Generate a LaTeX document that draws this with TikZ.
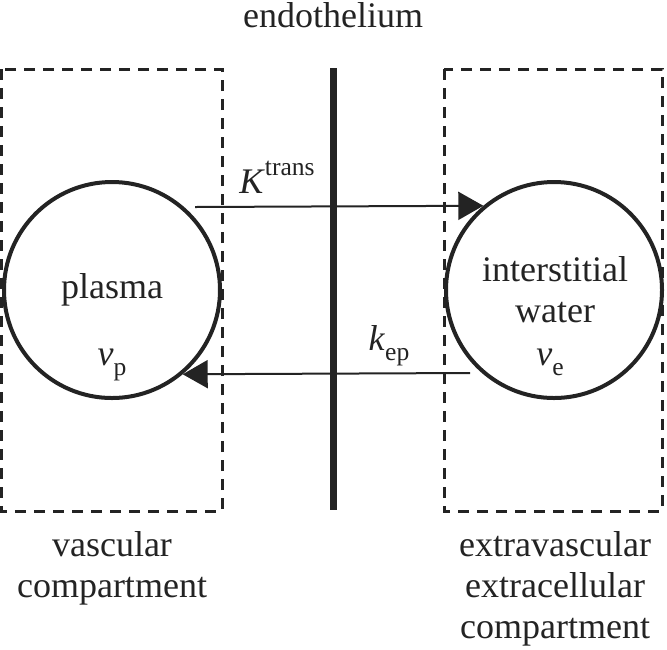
\documentclass[tikz,border=0pt]{standalone}
\usepackage{fontspec}
\setmainfont{Liberation Serif}
\usetikzlibrary{arrows.meta}
\definecolor{ink}{HTML}{232323}
\newcommand\supx[1]{\raisebox{0.5em}{\fontsize{12.8}{14}\selectfont #1}}
\newcommand\subx[1]{\raisebox{-0.3em}{\fontsize{12.8}{14}\selectfont #1}}

\begin{document}
\begin{tikzpicture}[x=0.5pt, y=-0.5pt, ink,
  every node/.style={font=\fontsize{18}{20.5}\selectfont, text=ink, inner sep=0pt},
  pool/.style={circle, draw, line width=2pt, minimum size=108pt},
  comp/.style={line width=1.5pt, dash pattern=on 5.5pt off 4pt},
  flux/.style={line width=1pt, -{Triangle[length=12.5pt, width=14pt]}}]
\useasboundingbox (0,0) rectangle (667,649);

% compartments
\draw [comp] (1,69) rectangle (222,511);
\draw [comp] (444,69) rectangle (662,511);
\node [anchor=base, align=center] (vasc) at (112,597) {vascular\\compartment};
\node [anchor=base, align=center] (eec) at (555,638) {extravascular\\extracellular\\compartment};

% endothelium
\path (333,68) coordinate (bartop) (333,510) coordinate (barbot);
\draw [line width=3.5pt] (bartop) -- (barbot);
\node [anchor=base] (endo) at (333,27) {endothelium};

% pools
\node [pool] (plasma) at (112,290) {};
\node [pool] (water) at (554,290) {};
\node [anchor=base] (plasmatx) at (112,298) {plasma};
\node [anchor=base] (vp) at (112,365) {\textit{v}\subx{p}};
\node [anchor=base, align=center] (watertx) at (555,322) {interstitial\\water};
\node [anchor=base] (ve) at (550,365) {\textit{v}\subx{e}};

% exchange
\path (195,207) coordinate (ktin) (470,373) coordinate (kepin);
\draw [flux] (ktin) -- (water.130);
\draw [flux] (kepin) -- (plasma.-50);
\node [anchor=base] (ktrans) at (277,193) {\textit{K}\supx{trans}};
\node [anchor=base] (kep) at (389,350) {\textit{k}\subx{ep}};
\end{tikzpicture}
\end{document}
